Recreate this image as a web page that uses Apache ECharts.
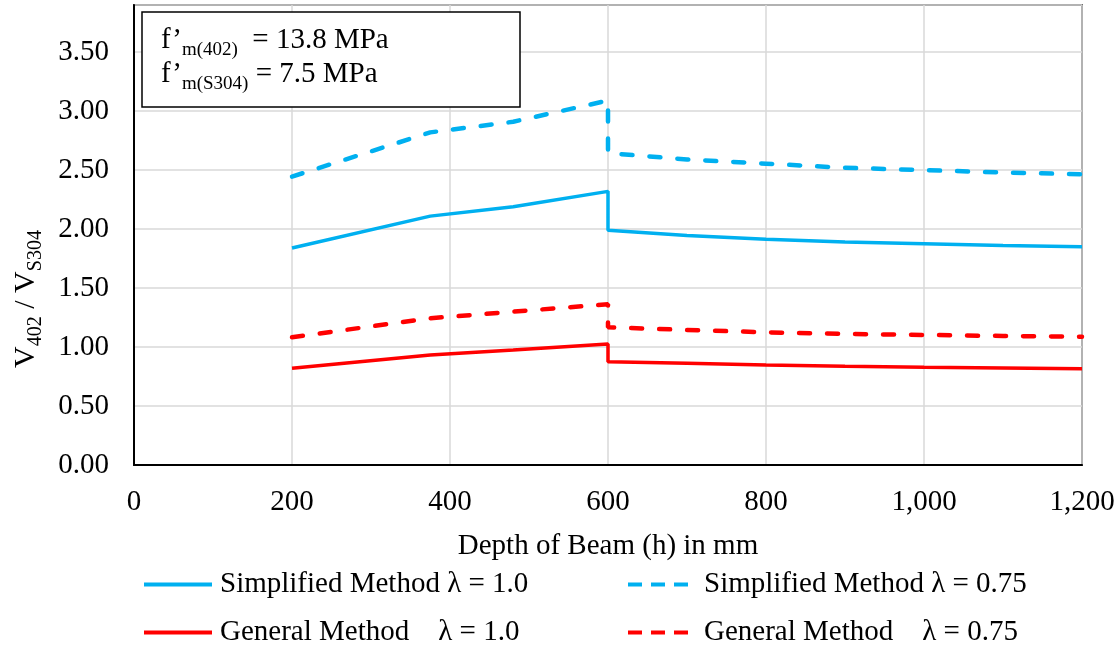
<!DOCTYPE html>
<html>
<head>
<meta charset="utf-8">
<title>V402 / VS304 vs Depth of Beam</title>
<script src="https://cdn.jsdelivr.net/npm/echarts@6/dist/echarts.min.js"></script>
<style>
    html, body {
        margin: 0;
        padding: 0;
        background: #ffffff;
    }
    #chart {
        width: 1119px;
        height: 647px;
    }
</style>
</head>
<body>
<div id="chart"></div>
<script>
// ========================================
// 数据
// ========================================

const depthH = [200, 375, 480, 600, 600, 700, 800, 900, 1000, 1100, 1200];

const simplified10 = [1.84, 2.11, 2.19, 2.32, 1.99, 1.945, 1.915, 1.89, 1.875, 1.86, 1.85];
const simplified075 = [2.445, 2.82, 2.91, 3.09, 2.645, 2.59, 2.555, 2.52, 2.50, 2.48, 2.465];
const general10 = [0.82, 0.933, 0.975, 1.026, 0.876, 0.862, 0.848, 0.837, 0.829, 0.823, 0.817];
const general075 = [1.083, 1.244, 1.30, 1.363, 1.168, 1.145, 1.125, 1.111, 1.103, 1.094, 1.088];

const seriesNames = [
    "Simplified Method \u03bb = 1.0",
    "Simplified Method \u03bb = 0.75",
    "General Method    \u03bb = 1.0",
    "General Method    \u03bb = 0.75"
];

const FONT = "'Liberation Serif', 'Times New Roman', serif";
const FONT_SIZE = 29;
const BLUE = "#00b0f0";
const RED = "#ff0000";

// ========================================
// 工具
// ========================================

function pairs(values) {
    return depthH.map((x, i) => [x, values[i]]);
}

function lineSeries(name, values, color, dashed) {
    return {
        name: name,
        type: "line",
        data: pairs(values),
        symbol: "none",
        smooth: false,
        lineStyle: {
            color: color,
            width: dashed ? 4.5 : 3.5,
            type: dashed ? [11, 17] : "solid",
            cap: dashed ? "round" : "butt"
        },
        itemStyle: {
            color: color
        }
    };
}

function legendItem(name, left, top, color, dashed) {
    return {
        data: [name],
        left: left,
        top: top,
        padding: 0,
        itemWidth: 68,
        itemHeight: 14,
        selectedMode: false,
        itemStyle: {
            opacity: 0
        },
        lineStyle: {
            color: color,
            width: 4,
            type: dashed ? [14, 9] : "solid",
            cap: "butt"
        },
        textStyle: {
            fontFamily: FONT,
            fontSize: FONT_SIZE,
            color: "#000",
            padding: [0, 0, 0, 3]
        }
    };
}

function thousands(v) {
    return String(v).replace(/\B(?=(\d{3})+(?!\d))/g, ",");
}

// ========================================
// 图表
// ========================================

const chart = echarts.init(document.getElementById("chart"));

const mainText = {
    fontFamily: FONT,
    fontSize: FONT_SIZE,
    color: "#000",
    lineHeight: 40,
    verticalAlign: "middle"
};
const subText = {
    fontFamily: FONT,
    fontSize: 19,
    color: "#000",
    lineHeight: 20,
    verticalAlign: "bottom"
};
const axisMain = Object.assign({}, mainText, { fontSize: 30 });
const axisSub = Object.assign({}, subText, { fontSize: 20 });

chart.setOption({
    animation: false,
    grid: {
        left: 134,
        right: 37,
        top: 5,
        bottom: 182,
        show: true,
        borderColor: "#000",
        borderWidth: 1.5
    },
    xAxis: {
        type: "value",
        min: 0,
        max: 1200,
        interval: 200,
        axisLine: {
            show: true,
            lineStyle: { color: "#000", width: 2 }
        },
        axisTick: { show: false },
        splitLine: {
            show: true,
            lineStyle: { color: "#d9d9d9", width: 1.5 }
        },
        axisLabel: {
            margin: 23,
            fontFamily: FONT,
            fontSize: FONT_SIZE,
            color: "#000",
            formatter: thousands
        },
        name: "Depth of Beam (h) in mm",
        nameLocation: "middle",
        nameGap: 67,
        nameTextStyle: {
            fontFamily: FONT,
            fontSize: FONT_SIZE,
            color: "#000"
        }
    },
    yAxis: {
        type: "value",
        min: 0,
        max: 3.9,
        interval: 0.5,
        axisLine: {
            show: true,
            lineStyle: { color: "#000", width: 2 }
        },
        axisTick: { show: false },
        splitLine: {
            show: true,
            lineStyle: { color: "#d9d9d9", width: 1.5 }
        },
        axisLabel: {
            margin: 25,
            fontFamily: FONT,
            fontSize: FONT_SIZE,
            color: "#000",
            showMaxLabel: false,
            formatter: v => (Math.abs(v / 0.5 - Math.round(v / 0.5)) < 1e-6 ? v.toFixed(2) : "")
        }
    },
    legend: [
        legendItem(seriesNames[0], 142, 570, BLUE, false),
        legendItem(seriesNames[1], 626, 570, BLUE, true),
        legendItem(seriesNames[2], 142, 618, RED, false),
        legendItem(seriesNames[3], 626, 618, RED, true)
    ],
    graphic: [
        {
            type: "text",
            x: 26,
            y: 299,
            rotation: Math.PI / 2,
            style: {
                text: "{a|V}{b|402}{a| / V}{b|S304}",
                align: "center",
                verticalAlign: "middle",
                rich: { a: axisMain, b: axisSub }
            }
        },
        {
            type: "rect",
            z: 100,
            shape: { x: 142, y: 12, width: 378, height: 95 },
            style: { fill: "#fff", stroke: "#000", lineWidth: 1.5 }
        },
        {
            type: "text",
            z: 101,
            x: 161,
            y: 40,
            style: {
                text: "{a|f\u2019}{b|m(402)}{a|  = 13.8 MPa}",
                align: "left",
                verticalAlign: "middle",
                rich: { a: mainText, b: subText }
            }
        },
        {
            type: "text",
            z: 101,
            x: 161,
            y: 74,
            style: {
                text: "{a|f\u2019}{b|m(S304)}{a| = 7.5 MPa}",
                align: "left",
                verticalAlign: "middle",
                rich: { a: mainText, b: subText }
            }
        }
    ],
    series: [
        lineSeries(seriesNames[0], simplified10, BLUE, false),
        lineSeries(seriesNames[1], simplified075, BLUE, true),
        lineSeries(seriesNames[2], general10, RED, false),
        lineSeries(seriesNames[3], general075, RED, true)
    ]
});
</script>
</body>
</html>
